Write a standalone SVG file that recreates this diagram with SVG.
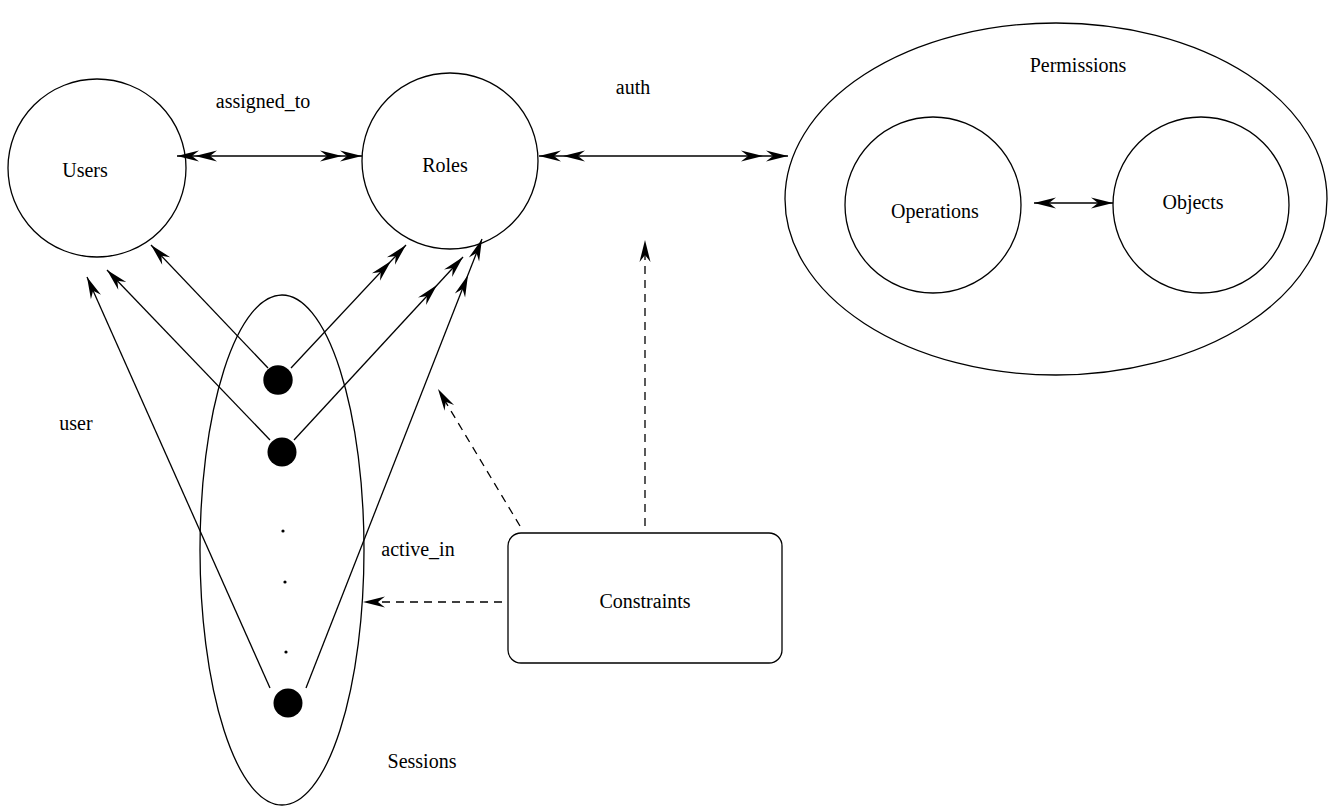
<svg xmlns="http://www.w3.org/2000/svg" xmlns:xlink="http://www.w3.org/1999/xlink" width="1332" height="807" viewBox="0 0 1332 807">
<style>
  .shape { fill: none; stroke: #000; stroke-width: 1.3; }
  .conn { fill: none; stroke: #000; stroke-width: 1.3; }
  .dash { fill: none; stroke: #000; stroke-width: 1.3; stroke-dasharray: 8 6; }
  .dot { fill: #000; stroke: none; }
  .ah { fill: #000; stroke: none; }
  text { font-family: "Liberation Serif", "Times New Roman", serif; font-size: 20px; fill: #000; text-anchor: middle; }
</style>
<defs>
  <path id="ah" class="ah" d="M0,0 L-22,-5.5 L-15,0 L-22,5.5 Z"/>
</defs>
<rect width="1332" height="807" fill="#fff"/>

<g id="users">
  <circle class="shape" cx="97" cy="168" r="89"/>
  <text x="85" y="177">Users</text>
</g>
<g id="roles">
  <circle class="shape" cx="450" cy="161" r="88"/>
  <text x="445" y="172">Roles</text>
</g>
<g id="permissions">
  <ellipse class="shape" cx="1056" cy="199" rx="271" ry="176"/>
  <text x="1078" y="72">Permissions</text>
</g>
<g id="operations">
  <circle class="shape" cx="933" cy="205" r="88"/>
  <text x="935" y="218">Operations</text>
</g>
<g id="objects">
  <circle class="shape" cx="1201" cy="205" r="88"/>
  <text x="1193" y="209">Objects</text>
</g>
<g id="sessions">
  <ellipse class="shape" cx="282" cy="550" rx="82" ry="255"/>
  <circle class="dot" cx="278" cy="380" r="14.7"/>
  <circle class="dot" cx="282" cy="452" r="14.5"/>
  <circle class="dot" cx="283" cy="531" r="1.6"/>
  <circle class="dot" cx="285" cy="582" r="1.6"/>
  <circle class="dot" cx="286" cy="652" r="1.6"/>
  <circle class="dot" cx="288" cy="703" r="14.5"/>
  <text x="422" y="768">Sessions</text>
</g>
<g id="constraints">
  <rect class="shape" x="508" y="533" width="274" height="130" rx="13" ry="13"/>
  <text x="645" y="608">Constraints</text>
</g>

<g id="labels">
  <text x="263" y="108">assigned_to</text>
  <text x="633" y="94">auth</text>
  <text x="76" y="430">user</text>
  <text x="418" y="556">active_in</text>
</g>

<g id="connectors">
  <line class="conn" x1="177" y1="156" x2="362" y2="156"/>
  <use xlink:href="#ah" transform="translate(177,156) rotate(180)"/>
  <use xlink:href="#ah" transform="translate(195,156) rotate(180)"/>
  <use xlink:href="#ah" transform="translate(362,156)"/>
  <use xlink:href="#ah" transform="translate(342,156)"/>

  <line class="conn" x1="539" y1="156" x2="788" y2="156"/>
  <use xlink:href="#ah" transform="translate(539,156) rotate(180)"/>
  <use xlink:href="#ah" transform="translate(563,156) rotate(180)"/>
  <use xlink:href="#ah" transform="translate(788,156)"/>
  <use xlink:href="#ah" transform="translate(763,156)"/>

  <line class="conn" x1="1034" y1="203" x2="1113" y2="203"/>
  <use xlink:href="#ah" transform="translate(1034,203) rotate(180)"/>
  <use xlink:href="#ah" transform="translate(1113,203)"/>

  <line class="conn" x1="268" y1="368" x2="151" y2="245"/>
  <use xlink:href="#ah" transform="translate(151,245) rotate(226.4)"/>
  <line class="conn" x1="270" y1="440" x2="107" y2="270"/>
  <use xlink:href="#ah" transform="translate(107,270) rotate(226.2)"/>
  <line class="conn" x1="270" y1="688" x2="87" y2="277"/>
  <use xlink:href="#ah" transform="translate(87,277) rotate(246)"/>

  <line class="conn" x1="291" y1="368" x2="406" y2="245"/>
  <use xlink:href="#ah" transform="translate(406,245) rotate(-46.9)"/>
  <use xlink:href="#ah" transform="translate(391,261) rotate(-46.9)"/>
  <line class="conn" x1="294" y1="440" x2="463" y2="257"/>
  <use xlink:href="#ah" transform="translate(463,257) rotate(-47.3)"/>
  <use xlink:href="#ah" transform="translate(437,285) rotate(-47.3)"/>
  <line class="conn" x1="306" y1="688" x2="482" y2="239"/>
  <use xlink:href="#ah" transform="translate(482,239) rotate(-68.6)"/>
  <use xlink:href="#ah" transform="translate(468,275) rotate(-68.6)"/>

  <line class="dash" x1="502" y1="602" x2="370" y2="602"/>
  <use xlink:href="#ah" transform="translate(363,602) rotate(180)"/>
  <line class="dash" x1="520" y1="526" x2="442" y2="396"/>
  <use xlink:href="#ah" transform="translate(438,389) rotate(239.1)"/>
  <line class="dash" x1="645" y1="526" x2="645" y2="248"/>
  <use xlink:href="#ah" transform="translate(645,240) rotate(-90)"/>
</g>
</svg>
